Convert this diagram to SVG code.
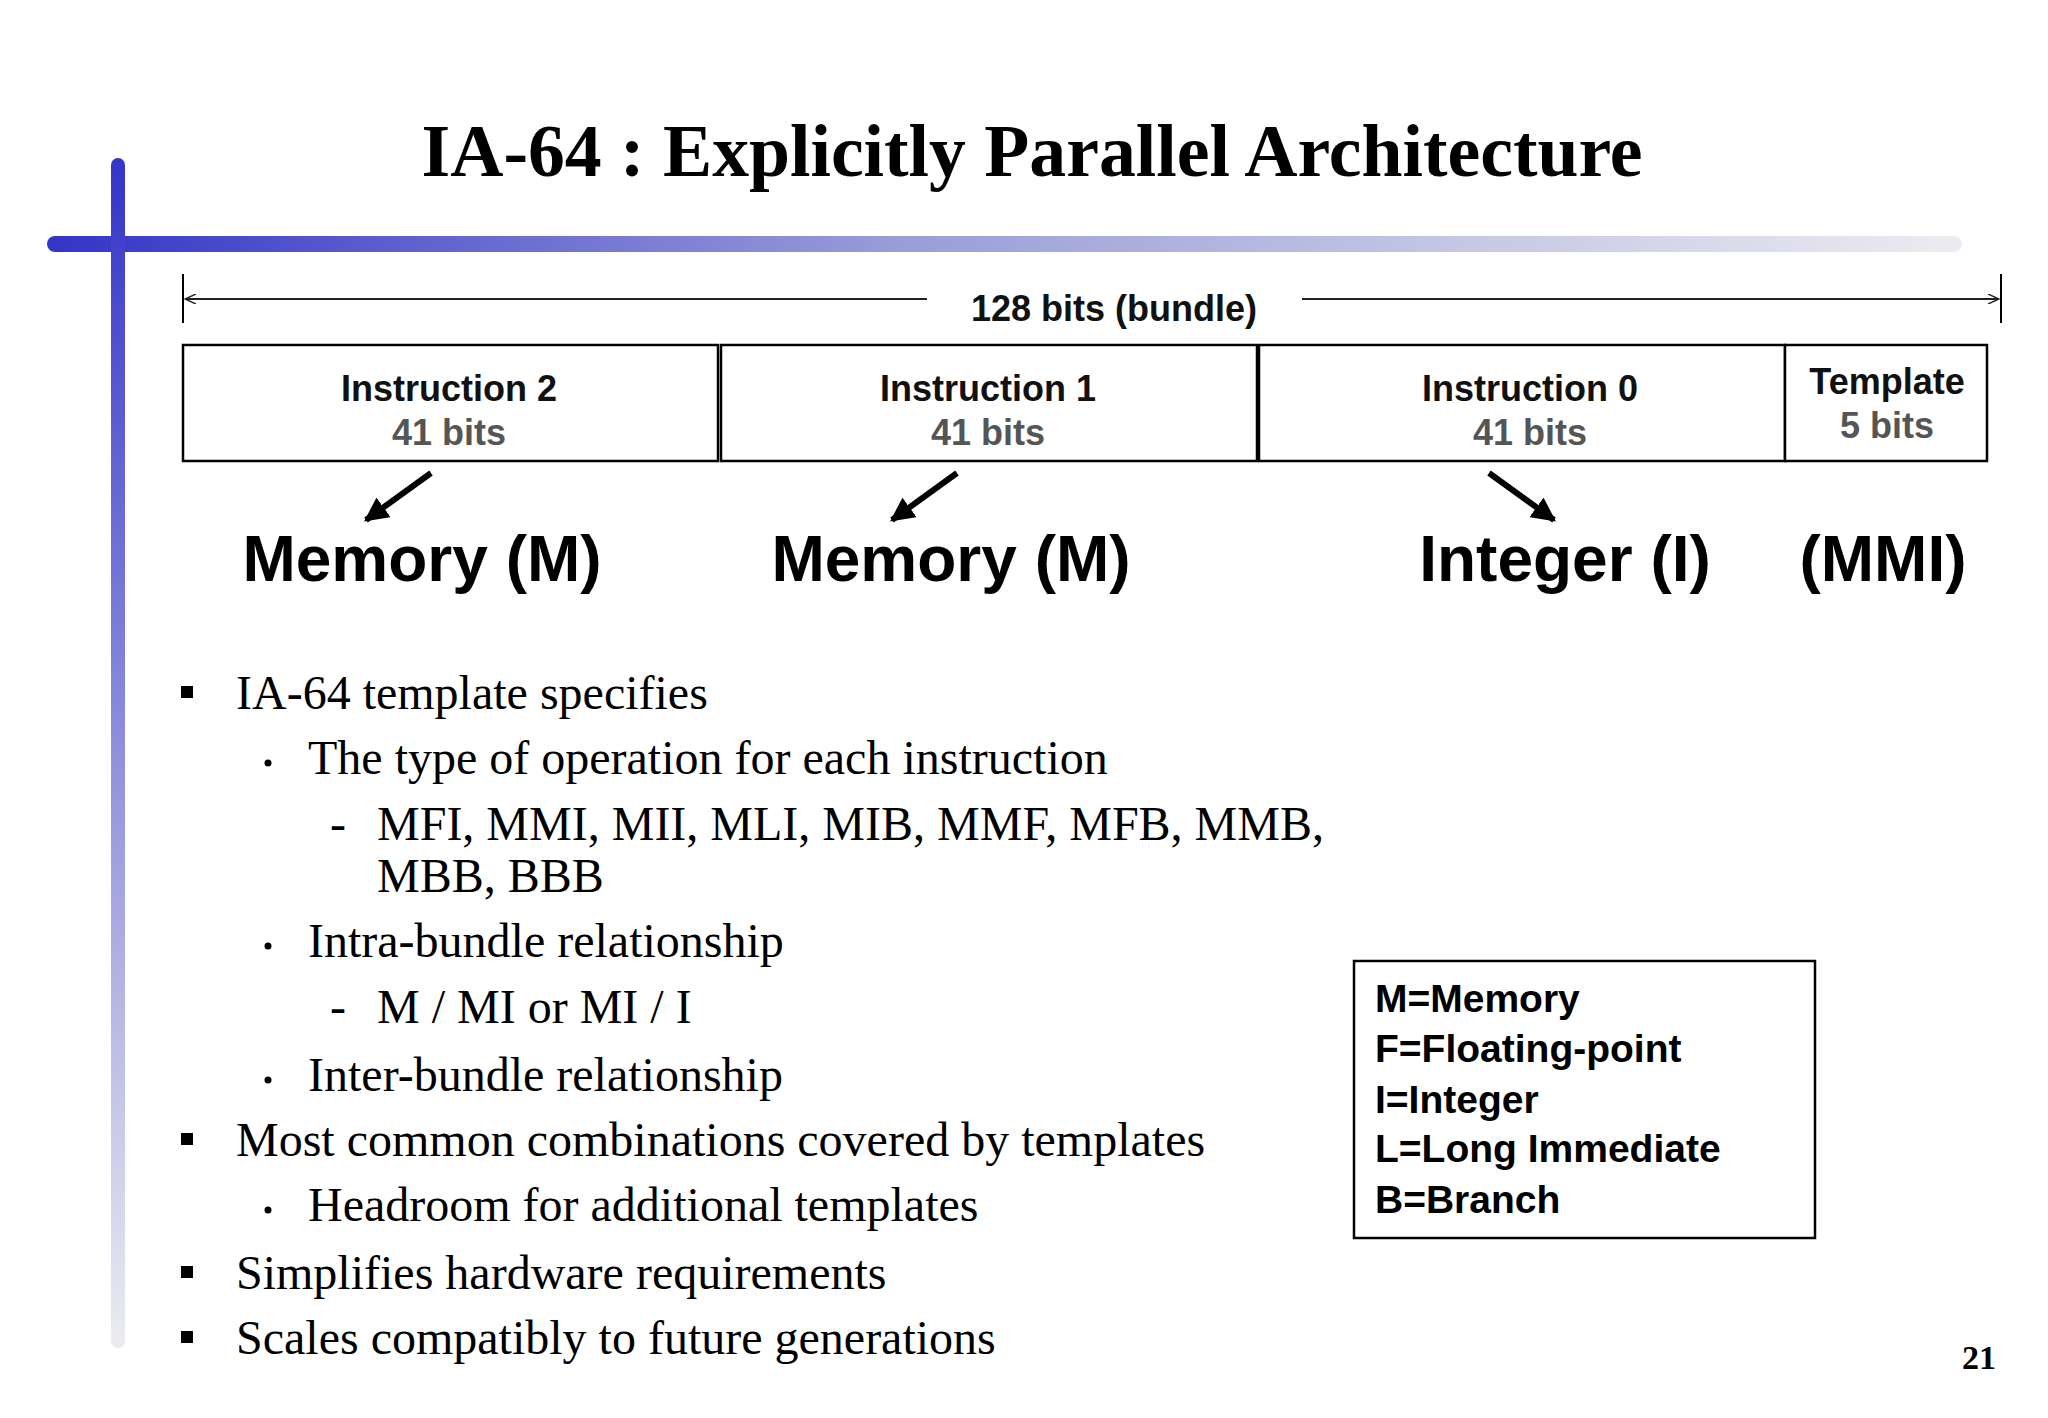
<svg xmlns="http://www.w3.org/2000/svg" width="2048" height="1418" viewBox="0 0 2048 1418">
<defs>
<linearGradient id="hbar" x1="0" x2="1" y1="0" y2="0"><stop offset="0" stop-color="#3434c8"/><stop offset="0.45" stop-color="#9a9ed8"/><stop offset="1" stop-color="#ececf0"/></linearGradient>
<linearGradient id="vbar" x1="0" x2="0" y1="0" y2="1"><stop offset="0" stop-color="#3434c8"/><stop offset="1" stop-color="#ececf0"/></linearGradient>
<marker id="ah" viewBox="0 0 10 10" refX="9" refY="5" markerWidth="4" markerHeight="4" orient="auto"><path d="M0,0L10,5L0,10z" fill="#000"/></marker>
<marker id="open" viewBox="0 0 12 10" refX="11" refY="5" markerWidth="12" markerHeight="10" markerUnits="userSpaceOnUse" orient="auto-start-reverse"><path d="M0,0L11,5L0,10" fill="none" stroke="#222" stroke-width="1.5"/></marker>
<style>
.bx{fill:#fff;stroke:#000;stroke-width:2.5}
.ins{font-family:"Liberation Sans",Arial,sans-serif;font-weight:bold;font-size:36px;text-anchor:middle;fill:#111}
.bits{font-family:"Liberation Sans",Arial,sans-serif;font-weight:bold;font-size:36px;text-anchor:middle;fill:#555}
.big{font-family:"Liberation Sans",Arial,sans-serif;font-weight:bold;font-size:64px;text-anchor:middle;fill:#000}
.b{font-family:"Liberation Serif","Times New Roman",serif;font-size:48px;fill:#000}
.leg{font-family:"Liberation Sans",Arial,sans-serif;font-weight:bold;font-size:39px;fill:#000}
</style>
</defs>
<rect width="2048" height="1418" fill="#fff"/>
<rect x="47" y="236" width="1915" height="16" rx="8" fill="url(#hbar)"/>
<rect x="111" y="158" width="14" height="1190" rx="7" fill="url(#vbar)"/>
<text x="1032" y="176" font-family="Liberation Serif,'Times New Roman',serif" font-weight="bold" font-size="74" text-anchor="middle" textLength="1221" lengthAdjust="spacingAndGlyphs">IA-64 : Explicitly Parallel Architecture</text>

<g id="connectors" stroke="#000">
<line x1="183" y1="274" x2="183" y2="323" stroke-width="2"/>
<line x1="2001" y1="274" x2="2001" y2="323" stroke-width="2"/>
<line x1="927" y1="299" x2="185" y2="299" stroke="#222" stroke-width="2" marker-end="url(#open)"/>
<line x1="1302" y1="299" x2="1999" y2="299" stroke="#222" stroke-width="2" marker-end="url(#open)"/>
<line x1="431" y1="473" x2="366" y2="520" stroke-width="6" marker-end="url(#ah)"/>
<line x1="957" y1="473" x2="892" y2="520" stroke-width="6" marker-end="url(#ah)"/>
<line x1="1489" y1="473" x2="1554" y2="520" stroke-width="6" marker-end="url(#ah)"/>
</g>
<text x="1114" y="321" class="ins" font-size="38">128 bits (bundle)</text>

<g id="inst2"><rect class="bx" x="183" y="345" width="535" height="116"/><text class="ins" x="449" y="401">Instruction 2</text><text class="bits" x="449" y="445">41 bits</text></g>
<g id="inst1"><rect class="bx" x="721" y="345" width="536" height="116"/><text class="ins" x="988" y="401">Instruction 1</text><text class="bits" x="988" y="445">41 bits</text></g>
<g id="inst0"><rect class="bx" x="1259" y="345" width="526" height="116"/><text class="ins" x="1530" y="401">Instruction 0</text><text class="bits" x="1530" y="445">41 bits</text></g>
<g id="template"><rect class="bx" x="1785" y="345" width="202" height="116"/><text class="ins" x="1887" y="394">Template</text><text class="bits" x="1887" y="438">5 bits</text></g>

<g id="memM2"><text class="big" x="422" y="581">Memory (M)</text></g>
<g id="memM1"><text class="big" x="951" y="581">Memory (M)</text></g>
<g id="intI"><text class="big" x="1565" y="581">Integer (I)</text></g>
<g id="mmi"><text class="big" x="1883" y="581" font-size="52">(MMI)</text></g>

<g id="bullets">
<rect x="181" y="686" width="12" height="12"/>
<text class="b" x="236" y="709">IA-64 template specifies</text>
<circle cx="268" cy="763" r="3.5"/>
<text class="b" x="308" y="774">The type of operation for each instruction</text>
<text class="b" x="330" y="840">-</text>
<text class="b" x="377" y="840">MFI, MMI, MII, MLI, MIB, MMF, MFB, MMB,</text>
<text class="b" x="377" y="892">MBB, BBB</text>
<circle cx="268" cy="946" r="3.5"/>
<text class="b" x="308" y="957">Intra-bundle relationship</text>
<text class="b" x="330" y="1023">-</text>
<text class="b" x="377" y="1023">M / MI or MI / I</text>
<circle cx="268" cy="1080" r="3.5"/>
<text class="b" x="308" y="1091">Inter-bundle relationship</text>
<rect x="181" y="1133" width="12" height="12"/>
<text class="b" x="236" y="1156">Most common combinations covered by templates</text>
<circle cx="268" cy="1210" r="3.5"/>
<text class="b" x="308" y="1221">Headroom for additional templates</text>
<rect x="181" y="1266" width="12" height="12"/>
<text class="b" x="236" y="1289">Simplifies hardware requirements</text>
<rect x="181" y="1331" width="12" height="12"/>
<text class="b" x="236" y="1354">Scales compatibly to future generations</text>
</g>

<g id="legend">
<rect x="1354" y="961" width="461" height="277" fill="#fff" stroke="#000" stroke-width="2.5"/>
<text class="leg" x="1375" y="1012">M=Memory</text>
<text class="leg" x="1375" y="1062">F=Floating-point</text>
<text class="leg" x="1375" y="1113">I=Integer</text>
<text class="leg" x="1375" y="1162">L=Long Immediate</text>
<text class="leg" x="1375" y="1213">B=Branch</text>
</g>
<text x="1979" y="1369" font-family="Liberation Serif,'Times New Roman',serif" font-weight="bold" font-size="34" text-anchor="middle">21</text>
</svg>
